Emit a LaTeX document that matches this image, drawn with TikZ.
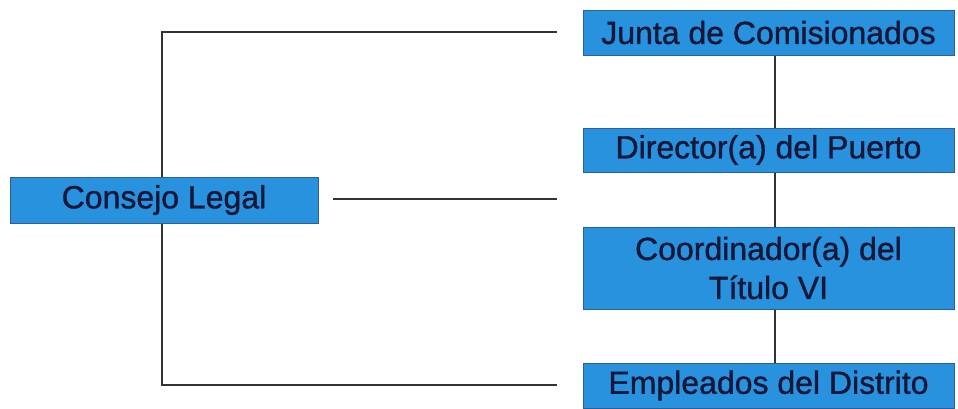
\documentclass[tikz,border=0pt]{standalone}
\usepackage{fontspec}
\setmainfont{Liberation Sans}
\newfontfamily\medfont{Liberation Sans}[BoldFont={Liberation Sans},BoldFeatures={FakeBold=1.2}]
\definecolor{boxfill}{RGB}{41,146,222}
\definecolor{boxline}{RGB}{45,95,150}
\definecolor{txt}{RGB}{22,24,58}
\definecolor{conn}{RGB}{50,50,55}
\begin{document}
\begin{tikzpicture}[x=1pt,y=-1pt,
  orgbox/.style={draw=boxline,fill=boxfill,line width=1pt,inner sep=0pt,
    text=txt,font=\medfont\bfseries\fontsize{32}{39}\selectfont,align=center},
  link/.style={draw=conn,line width=2pt}]
\useasboundingbox (0,0) rectangle (958,408);
% left vertical spine drawn first so the box covers it
\coordinate (ltop) at (557,32);
\coordinate (lmid) at (557,199);
\coordinate (lbot) at (557,385);
\coordinate (cmid) at (333,199);
\coordinate (spine) at (162,0);
\coordinate (vx) at (775,0);
\draw[link] (ltop) -- (ltop -| spine) -- (lbot -| spine) -- (lbot);
\node[orgbox,minimum width=308pt,minimum height=46pt] (consejo) at (164,200) {Consejo Legal};
\draw[link] (cmid) -- (lmid);
\node[orgbox,minimum width=371pt,minimum height=45pt] (junta) at (768.5,32.5) {Junta de Comisionados};
\node[orgbox,minimum width=371pt,minimum height=44pt] (director) at (768.5,150) {Director(a) del Puerto};
\node[orgbox,minimum width=371pt,minimum height=82pt] (coord) at (768.5,268) {Coordinador(a) del\\Título VI};
\node[orgbox,minimum width=371pt,minimum height=45pt] (empl) at (768.5,385.5) {Empleados del Distrito};
\draw[link] (junta.south -| vx) -- (director.north -| vx);
\draw[link] (director.south -| vx) -- (coord.north -| vx);
\draw[link] (coord.south -| vx) -- (empl.north -| vx);
\end{tikzpicture}
\end{document}
